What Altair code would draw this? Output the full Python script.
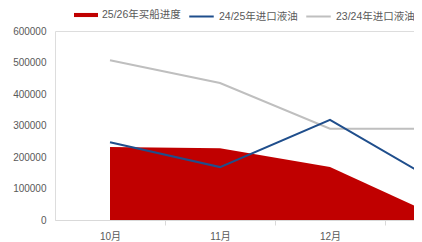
import altair as alt
import pandas as pd

months = ["10月", "11月", "12月", "1月"]
series_names = ["25/26年买船进度", "24/25年进口液油", "23/24年进口液油"]
buy_2526 = [232000, 228000, 168000, 8000]
imp_2425 = [247000, 168000, 318000, 115000]
imp_2324 = [507000, 435000, 290000, 290000]
colors = ["#C00000", "#1F4E8C", "#BFBFBF"]
y_ticks = [0, 100000, 200000, 300000, 400000, 500000, 600000]

rows = []
for name, vals in zip(series_names, [buy_2526, imp_2425, imp_2324]):
    for i, (m, v) in enumerate(zip(months, vals)):
        rows.append({"series": name, "idx": i, "month": m, "value": v})
df = pd.DataFrame(rows)

FONT = "Liberation Sans, Noto Sans CJK SC"
label_expr = "datum.value == 0 ? '10月' : datum.value == 1 ? '11月' : datum.value == 2 ? '12月' : ''"

x_enc = alt.X(
    "idx:Q",
    scale=alt.Scale(domain=[-0.5, 2.7636], nice=False, zero=False),
    axis=alt.Axis(
        values=[0, 1, 2], labelExpr=label_expr, title=None, grid=False,
        tickOffset=55, labelOffset=-55, tickSize=5, tickColor="#D9D9D9",
        domainColor="#D9D9D9", labelColor="#595959", labelFontSize=10,
        labelPadding=6, labelFont=FONT,
    ),
)
y_enc = alt.Y(
    "value:Q",
    scale=alt.Scale(domain=[0, 600000], nice=False),
    axis=alt.Axis(
        values=y_ticks, format="d", title=None, grid=False, domain=False,
        ticks=False, labelColor="#595959", labelFontSize=10, labelPadding=9,
        labelFont=FONT,
    ),
)

fill_enc = alt.Fill(
    "series:N",
    scale=alt.Scale(domain=series_names[:1], range=colors[:1]),
    legend=alt.Legend(
        title=None, orient="none", legendX=19, legendY=-28, direction="horizontal",
        symbolType="M-1,-0.17H1V0.17H-1Z", symbolSize=576, symbolStrokeWidth=0,
        symbolOpacity=1,
        labelFontSize=10.5, labelColor="#595959", labelFont=FONT, labelOffset=4,
    ),
)
stroke_enc = alt.Stroke(
    "series:N",
    scale=alt.Scale(domain=series_names[1:], range=colors[1:]),
    sort=series_names[1:],
    legend=alt.Legend(
        title=None, orient="none", legendX=133, legendY=-28, direction="horizontal",
        symbolType="stroke", symbolSize=600, symbolStrokeWidth=2,
        labelFontSize=10.5, labelColor="#595959", labelFont=FONT, labelOffset=4,
        columnPadding=4,
    ),
)

base = alt.Chart(df)
area = base.transform_filter(alt.datum.series == series_names[0]).mark_area(
    clip=True, opacity=1
).encode(x=x_enc, y=y_enc, fill=fill_enc)
gray = base.transform_filter(alt.datum.series == series_names[2]).mark_line(
    clip=True, strokeWidth=2
).encode(x=x_enc, y=y_enc, stroke=stroke_enc)
blue = base.transform_filter(alt.datum.series == series_names[1]).mark_line(
    clip=True, strokeWidth=2
).encode(x=x_enc, y=y_enc, stroke=stroke_enc)

chart = alt.layer(area, gray, blue).properties(
    width=359, height=189,
    autosize=alt.AutoSizeParams(type="none"),
    padding={"left": 47, "top": 23, "right": 0, "bottom": 22},
).configure_view(stroke=None).configure(background="white")

chart.save("out.html", embed_options={"renderer": "svg", "actions": False})
